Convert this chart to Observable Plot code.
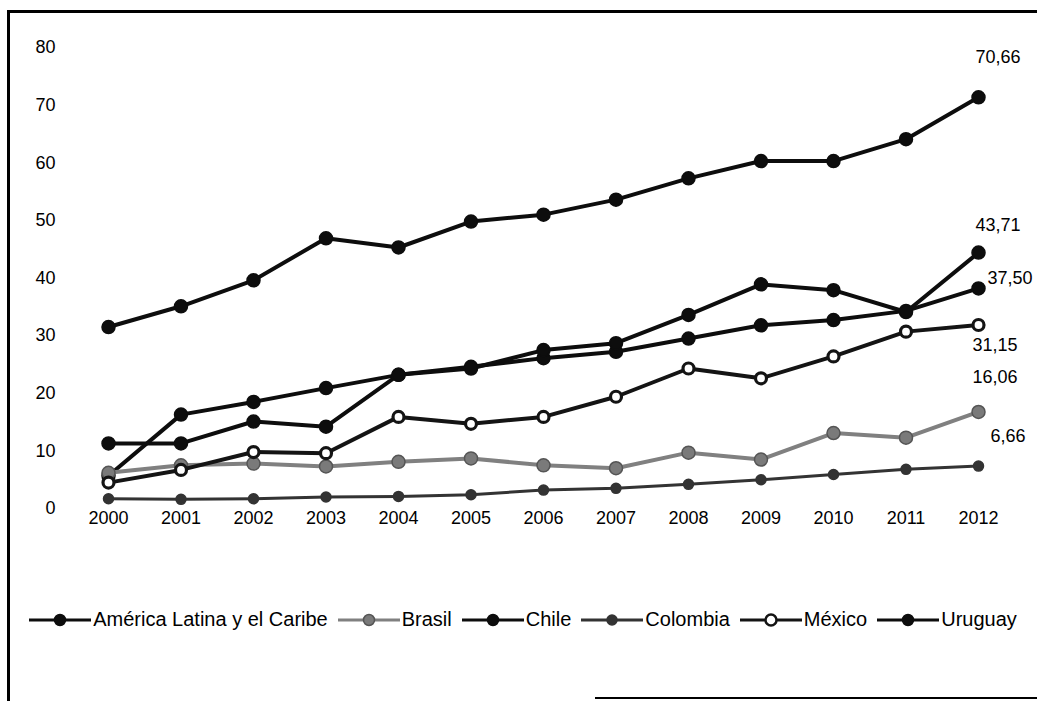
<!DOCTYPE html>
<html><head><meta charset="utf-8">
<script src="https://cdn.jsdelivr.net/npm/d3@7"></script>
<script src="https://cdn.jsdelivr.net/npm/@observablehq/plot@0.6"></script>
<style>
html,body{margin:0;padding:0;background:#fff;}
#wrap{position:relative;width:1037px;height:701px;overflow:hidden;font-family:"Liberation Sans",Arial,sans-serif;background:#fff;}
.frame-top{position:absolute;left:7px;top:10px;width:1030px;height:3px;background:#000;}
.frame-left{position:absolute;left:7px;top:10px;width:3px;height:691px;background:#000;}
.frame-bottom{position:absolute;left:595px;top:697px;width:442px;height:2px;background:#000;}
#chart{position:absolute;left:0;top:0;}
#legend{position:absolute;left:0;top:608px;width:1046px;display:flex;justify-content:center;align-items:center;font-size:20px;color:#000;white-space:nowrap;}
.item{display:flex;align-items:center;margin:0 5px;}
.item svg{margin-right:2px;}
</style>
</head>
<body>
<div id="wrap">
  <div class="frame-top"></div>
  <div class="frame-left"></div>
  <div class="frame-bottom"></div>
  <div id="chart"></div>
  <div id="legend"></div>
</div>
<script>
const years = [2000, 2001, 2002, 2003, 2004, 2005, 2006, 2007, 2008, 2009, 2010, 2011, 2012];
const yTicks = [0, 10, 20, 30, 40, 50, 60, 70, 80];
const seriesNames = ["América Latina y el Caribe", "Brasil", "Chile", "Colombia", "México", "Uruguay"];

const americaLatina = [5.0, 15.6, 17.8, 20.2, 22.5, 23.9, 25.4, 26.5, 28.8, 31.1, 32.0, 33.6, 37.50];
const brasil        = [5.5, 6.8, 7.1, 6.6, 7.4, 8.0, 6.8, 6.3, 9.0, 7.8, 12.4, 11.6, 16.06];
const chile         = [10.6, 10.6, 14.4, 13.5, 22.5, 23.6, 26.8, 28.0, 32.9, 38.2, 37.2, 33.4, 43.71];
const colombia      = [1.0, 0.9, 1.0, 1.3, 1.4, 1.7, 2.5, 2.8, 3.5, 4.3, 5.2, 6.1, 6.66];
const mexico        = [3.8, 6.0, 9.1, 8.9, 15.2, 14.0, 15.2, 18.7, 23.6, 21.9, 25.7, 30.0, 31.15];
const uruguay       = [30.8, 34.4, 38.9, 46.2, 44.6, 49.1, 50.3, 52.9, 56.6, 59.6, 59.6, 63.4, 70.66];

const endLabels = ["37,50", "16,06", "43,71", "6,66", "31,15", "70,66"];

const valuesBySeries = [americaLatina, brasil, chile, colombia, mexico, uruguay];

const styles = [
  {stroke: "#0d0d0d", fill: "#0d0d0d", mstroke: "#0d0d0d", sw: 4, r: 6.5, msw: 1.5, dx: 9, dy: -10},
  {stroke: "#808080", fill: "#7a7a7a", mstroke: "#555", sw: 4, r: 6.5, msw: 1.5, dx: -6, dy: -35},
  {stroke: "#0d0d0d", fill: "#0d0d0d", mstroke: "#0d0d0d", sw: 4, r: 6.5, msw: 1.5, dx: -3, dy: -27},
  {stroke: "#333", fill: "#333", mstroke: "#333", sw: 3, r: 5, msw: 1.5, dx: 12, dy: -30},
  {stroke: "#141414", fill: "#fff", mstroke: "#141414", sw: 4, r: 5.5, msw: 3.2, dx: -6, dy: 20},
  {stroke: "#0d0d0d", fill: "#0d0d0d", mstroke: "#0d0d0d", sw: 4, r: 6.5, msw: 1.5, dx: -3, dy: -40}
];

const marks = [];
seriesNames.forEach((name, i) => {
  const rows = years.map((yr, j) => ({serie: name, year: yr, value: valuesBySeries[i][j]}));
  const st = styles[i];
  marks.push(Plot.line(rows, {x: "year", y: "value", stroke: st.stroke, strokeWidth: st.sw}));
  marks.push(Plot.dot(rows, {x: "year", y: "value", r: st.r, fill: st.fill, stroke: st.mstroke, strokeWidth: st.msw}));
  const last = rows[rows.length - 1];
  marks.push(Plot.text([last], {x: "year", y: "value", text: () => endLabels[i], textAnchor: "start", dx: st.dx, dy: st.dy, fontSize: 18, fill: "#000"}));
});

marks.push(Plot.axisX({ticks: years, tickFormat: d => String(d), tickSize: 0, tickPadding: 7, fontSize: 18}));
marks.push(Plot.axisY({ticks: yTicks, tickSize: 0, tickPadding: 53, dy: 4, fontSize: 18}));

const chart = Plot.plot({
  width: 1037,
  height: 540,
  marginLeft: 108,
  marginRight: 59,
  marginTop: 43,
  marginBottom: 36,
  x: {domain: [2000, 2012], label: null},
  y: {domain: [0, 80], label: null},
  style: {fontFamily: "'Liberation Sans', Arial, sans-serif", fontSize: "18px", color: "#000", background: "transparent", overflow: "visible"},
  marks
});
document.getElementById("chart").appendChild(chart);

const legend = d3.select("#legend");
seriesNames.forEach((name, i) => {
  const st = styles[i];
  const item = legend.append("div").attr("class", "item");
  const svg = item.append("svg").attr("width", 62).attr("height", 20);
  svg.append("line").attr("x1", 0).attr("x2", 62).attr("y1", 10).attr("y2", 10)
    .attr("stroke", st.stroke).attr("stroke-width", 3);
  svg.append("circle").attr("cx", 31).attr("cy", 10).attr("r", Math.min(st.r, 5.5))
    .attr("fill", st.fill).attr("stroke", st.mstroke).attr("stroke-width", Math.min(st.msw, 2.5));
  item.append("span").text(name);
});
</script>
</body></html>
